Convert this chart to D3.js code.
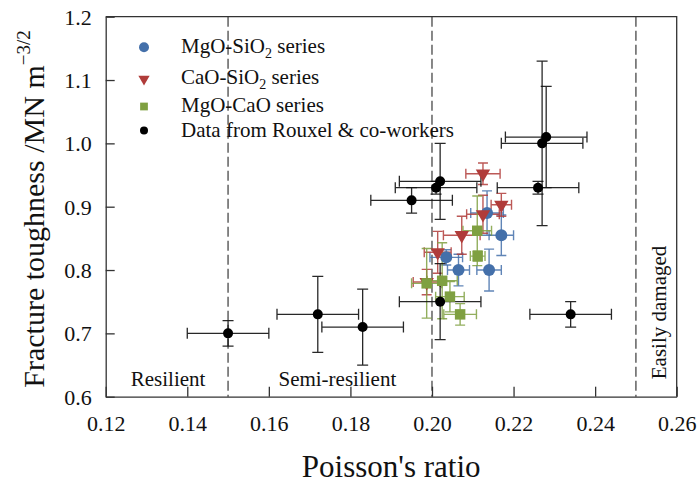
<!DOCTYPE html>
<html>
<head>
<meta charset="utf-8">
<script src="https://cdn.jsdelivr.net/npm/d3@7"></script>
<style>
  html, body { margin: 0; padding: 0; background: #fff; }
  svg { display: block; }
  svg text { font-family: "Liberation Serif", "Times New Roman", "DejaVu Serif", serif; }
</style>
</head>
<body>
<svg id="chart" width="699" height="484"></svg>
<script>
// Poisson's ratio vs fracture toughness, with x / y uncertainties
const mgoSio2 = [
  { x: 0.2135, y: 0.89,  ex: 0.004,  ey: 0.035 },
  { x: 0.217,  y: 0.855, ex: 0.003,  ey: 0.032 },
  { x: 0.2035, y: 0.82,  ex: 0.004,  ey: 0.012 },
  { x: 0.2065, y: 0.80,  ex: 0.0027, ey: 0.025 },
  { x: 0.214,  y: 0.80,  ex: 0.003,  ey: 0.033 }
];
const caoSio2 = [
  { x: 0.2125, y: 0.952, ex: 0.0042, ey: 0.017 },
  { x: 0.217,  y: 0.903, ex: 0.0025, ey: 0.018 },
  { x: 0.2125, y: 0.888, ex: 0.004,  ey: 0.03 },
  { x: 0.2073, y: 0.855, ex: 0.0045, ey: 0.03 },
  { x: 0.2014, y: 0.828, ex: 0.0033, ey: 0.033 },
  { x: 0.1987, y: 0.781, ex: 0.0033, ey: 0.02 }
];
const mgoCao = [
  { x: 0.2111, y: 0.862, ex: 0.0035, ey: 0.055 },
  { x: 0.2112, y: 0.822, ex: 0.0018, ey: 0.008 },
  { x: 0.1987, y: 0.779, ex: 0.0037, ey: 0.055 },
  { x: 0.2025, y: 0.783, ex: 0.0037, ey: 0.06 },
  { x: 0.2044, y: 0.758, ex: 0.0035, ey: 0.024 },
  { x: 0.2069, y: 0.730, ex: 0.004,  ey: 0.017 }
];
const rouxel = [
  { x: 0.150, y: 0.70, ex: 0.01, ey: 0.02 },
  { x: 0.172, y: 0.73, ex: 0.01, ey: 0.06 },
  { x: 0.183, y: 0.71, ex: 0.01, ey: 0.06 },
  { x: 0.195, y: 0.91, ex: 0.01, ey: 0.02 },
  { x: 0.201, y: 0.93, ex: 0.01, ey: 0.01 },
  { x: 0.202, y: 0.94, ex: 0.01, ey: 0.06 },
  { x: 0.202, y: 0.75, ex: 0.01, ey: 0.06 },
  { x: 0.226, y: 0.93, ex: 0.01, ey: 0.01 },
  { x: 0.227, y: 1.00, ex: 0.01, ey: 0.13 },
  { x: 0.228, y: 1.01, ex: 0.01, ey: 0.08 },
  { x: 0.234, y: 0.73, ex: 0.01, ey: 0.02 }
];
const xTicks = [0.12, 0.14, 0.16, 0.18, 0.20, 0.22, 0.24, 0.26];
const yTicks = [0.6, 0.7, 0.8, 0.9, 1.0, 1.1, 1.2];
const boundaries = [0.15, 0.20, 0.25];
const regionLabels = [
  { text: "Resilient", x: 0.1353 },
  { text: "Semi-resilient", x: 0.1768 }
];
const seriesNames = ["MgO-SiO", "CaO-SiO", "MgO-CaO", "Data from Rouxel & co-workers"];

const FONT = "'Liberation Serif', 'Times New Roman', 'DejaVu Serif', serif";
const svg = d3.select("#chart").style("font-family", FONT);
const W = 699, H = 484;
const margin = { left: 105.7, right: W - 676.7, top: 16.7, bottom: H - 396.7 };

const x = d3.scaleLinear().domain([0.12, 0.26]).range([margin.left, W - margin.right]);
const y = d3.scaleLinear().domain([0.6, 1.2]).range([H - margin.bottom, margin.top]);

// boundary dashed lines
svg.append("g").selectAll("line").data(boundaries).join("line")
  .attr("x1", d => x(d)).attr("x2", d => x(d))
  .attr("y1", y(1.2)).attr("y2", y(0.6))
  .attr("stroke", "#555").attr("stroke-width", 1.4)
  .attr("stroke-dasharray", "10,4");

// region labels
svg.append("g").selectAll("text").data(regionLabels).join("text")
  .attr("x", d => x(d.x)).attr("y", 386)
  .attr("text-anchor", "middle").attr("font-size", 21).attr("fill", "#111")
  .text(d => d.text);
svg.append("text")
  .attr("transform", `translate(666,312.5) rotate(-90)`)
  .attr("text-anchor", "middle").attr("font-size", 21).attr("fill", "#111")
  .text("Easily damaged");

// axes (ticks drawn inward)
const xAxis = d3.axisBottom(x).tickValues(xTicks).tickFormat(d3.format(".2f"))
  .tickSizeInner(-10).tickSizeOuter(0).tickPadding(18.5);
const yAxis = d3.axisLeft(y).tickValues(yTicks).tickFormat(d3.format(".1f"))
  .tickSizeInner(-9).tickSizeOuter(0).tickPadding(14);

const gx = svg.append("g").attr("transform", `translate(0,${y(0.6)})`).call(xAxis);
const gy = svg.append("g").attr("transform", `translate(${x(0.12)},0)`).call(yAxis);
[gx, gy].forEach(g => {
  g.attr("font-family", null);
  g.select(".domain").attr("stroke", "#333").attr("stroke-width", 1.3);
  g.selectAll(".tick line").attr("stroke", "#333").attr("stroke-width", 1.3);
  g.selectAll(".tick text").attr("font-size", 22).attr("fill", "#111")
    .style("font-family", FONT);
});
gy.selectAll(".tick text").attr("dy", "0.34em");

// frame top / right
svg.append("path")
  .attr("d", `M${x(0.12)},${y(1.2)}H${x(0.26)}V${y(0.6)}`)
  .attr("fill", "none").attr("stroke", "#333").attr("stroke-width", 1.3);

// error bars
function errorBars(data, color, cap, opacity, width) {
  const g = svg.append("g").attr("stroke", color).attr("stroke-width", width)
    .attr("stroke-opacity", opacity).attr("fill", "none");
  g.selectAll("path.eb").data(data).join("path").attr("class", "eb")
    .attr("d", d => {
      const cx = x(d.x), cy = y(d.y);
      const x0 = x(d.x - d.ex), x1 = x(d.x + d.ex);
      const y0 = y(d.y - d.ey), y1 = y(d.y + d.ey);
      return `M${x0},${cy}H${x1}M${x0},${cy - cap}V${cy + cap}M${x1},${cy - cap}V${cy + cap}` +
             `M${cx},${y0}V${y1}M${cx - cap},${y0}H${cx + cap}M${cx - cap},${y1}H${cx + cap}`;
    });
}

const cBlue = "#4470aa", cRed = "#b03c3a", cGreen = "#7fa041";

errorBars(mgoSio2, cBlue, 5, 0.85, 1.4);
errorBars(caoSio2, cRed, 5, 0.85, 1.4);
errorBars(mgoCao, cGreen, 5, 0.85, 1.4);
errorBars(rouxel, "#111", 5.5, 0.9, 1.3);

const tri = d3.symbol().type(d3.symbolTriangle).size(90);
const sq = d3.symbol().type(d3.symbolSquare).size(110);

svg.append("g").selectAll("circle").data(mgoSio2).join("circle")
  .attr("cx", d => x(d.x)).attr("cy", d => y(d.y)).attr("r", 6).attr("fill", cBlue);
svg.append("g").selectAll("path").data(caoSio2).join("path")
  .attr("d", tri).attr("fill", cRed)
  .attr("transform", d => `translate(${x(d.x)},${y(d.y)}) rotate(180)`);
svg.append("g").selectAll("path").data(mgoCao).join("path")
  .attr("d", sq).attr("fill", cGreen)
  .attr("transform", d => `translate(${x(d.x)},${y(d.y)})`);
svg.append("g").selectAll("circle").data(rouxel).join("circle")
  .attr("cx", d => x(d.x)).attr("cy", d => y(d.y)).attr("r", 5).attr("fill", "#000");

// legend
const leg = svg.append("g");
const legRows = [47.3, 79, 106.5, 130.5];
leg.append("circle").attr("cx", 144).attr("cy", legRows[0]).attr("r", 5).attr("fill", cBlue);
leg.append("path").attr("d", d3.symbol().type(d3.symbolTriangle).size(55))
  .attr("transform", `translate(144,${legRows[1]}) rotate(180)`).attr("fill", cRed);
leg.append("path").attr("d", d3.symbol().type(d3.symbolSquare).size(60))
  .attr("transform", `translate(144,${legRows[2]})`).attr("fill", cGreen);
leg.append("circle").attr("cx", 144).attr("cy", legRows[3]).attr("r", 4).attr("fill", "#000");

const baselines = [52.5, 84, 111.5, 137];
seriesNames.forEach((name, i) => {
  const t = leg.append("text").attr("x", 181).attr("y", baselines[i])
    .attr("font-size", 21).attr("fill", "#111");
  t.append("tspan").text(name);
  if (i < 2) {
    t.append("tspan").attr("font-size", 14).attr("dy", 5).text("2");
    t.append("tspan").attr("dy", -5).text(" series");
  } else if (i === 2) {
    t.append("tspan").text(" series");
  }
});

// axis titles
svg.append("text").attr("x", (x(0.12) + x(0.26)) / 2).attr("y", 477)
  .attr("text-anchor", "middle").attr("font-size", 31).attr("fill", "#111")
  .text("Poisson's ratio");

const yt = svg.append("text")
  .attr("transform", `translate(44,209) rotate(-90)`)
  .attr("text-anchor", "middle").attr("font-size", 30).attr("fill", "#111");
yt.append("tspan").text("Fracture toughness /MN m");
yt.append("tspan").attr("font-size", 19).attr("dy", -14).text("\u22123/2");
</script>
</body>
</html>
